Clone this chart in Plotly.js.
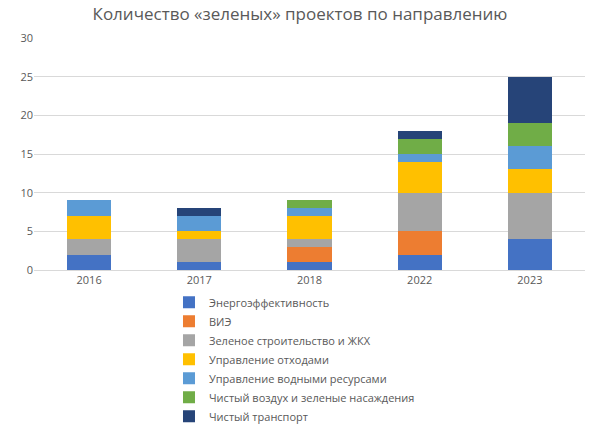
<!DOCTYPE html>
<html>
<head>
<meta charset="utf-8">
<script src="https://cdn.plot.ly/plotly-3.0.1.min.js"></script>
<style>
  html, body { margin: 0; padding: 0; background: #fff; }
  #chart { width: 600px; height: 427px; }
</style>
</head>
<body>
<div id="chart"></div>
<script>
const years = ["2016", "2017", "2018", "2022", "2023"];

const energyEfficiency = [2, 1, 1, 2, 4];
const renewables = [0, 0, 2, 3, 0];
const greenBuilding = [2, 3, 1, 5, 6];
const wasteManagement = [3, 1, 3, 4, 3];
const waterManagement = [2, 2, 1, 1, 3];
const cleanAir = [0, 0, 1, 2, 3];
const cleanTransport = [0, 1, 0, 1, 6];

const seriesNames = [
  "Энергоэффективность",
  "ВИЭ",
  "Зеленое строительство и ЖКХ",
  "Управление отходами",
  "Управление водными ресурсами",
  "Чистый воздух и зеленые насаждения",
  "Чистый транспорт"
];
const seriesValues = [
  energyEfficiency, renewables, greenBuilding, wasteManagement,
  waterManagement, cleanAir, cleanTransport
];
const seriesColors = ["#4472c4", "#ed7d31", "#a5a5a5", "#ffc000", "#5b9bd5", "#70ad47", "#264478"];

const traces = seriesNames.map((name, i) => ({
  type: "bar",
  name,
  x: years,
  y: seriesValues[i],
  marker: {color: seriesColors[i], line: {width: 0}},
  hoverinfo: "name+y"
}));

const layout = {
  width: 600,
  height: 427,
  margin: {l: 34, r: 15, t: 38, b: 157},
  paper_bgcolor: "#fff",
  plot_bgcolor: "#fff",
  barmode: "stack",
  bargap: 0.6,
  font: {family: "Open Sans, sans-serif", size: 11, color: "#595959"},
  title: {
    text: "Количество «зеленых» проектов по направлению",
    font: {size: 17, color: "#595959"},
    x: 0.5,
    xanchor: "center",
    y: 0.968,
    yanchor: "middle"
  },
  xaxis: {
    type: "category",
    showgrid: false,
    showline: true,
    linecolor: "#d9d9d9",
    ticks: "",
    tickfont: {size: 11, color: "#595959"}
  },
  yaxis: {
    range: [0, 30],
    dtick: 5,
    gridcolor: "#d9d9d9",
    zeroline: false,
    ticks: "",
    tickfont: {size: 11, color: "#595959"}
  },
  showlegend: true,
  legend: {
    orientation: "v",
    traceorder: "normal",
    xref: "paper",
    x: 0.245,
    xanchor: "left",
    yref: "container",
    y: 0.326,
    yanchor: "top",
    bgcolor: "rgba(0,0,0,0)",
    font: {size: 11, color: "#595959"},
    itemwidth: 30,
    tracegroupgap: 0
  }
};

Plotly.newPlot("chart", traces, layout, {displayModeBar: false, staticPlot: true});
</script>
</body>
</html>
